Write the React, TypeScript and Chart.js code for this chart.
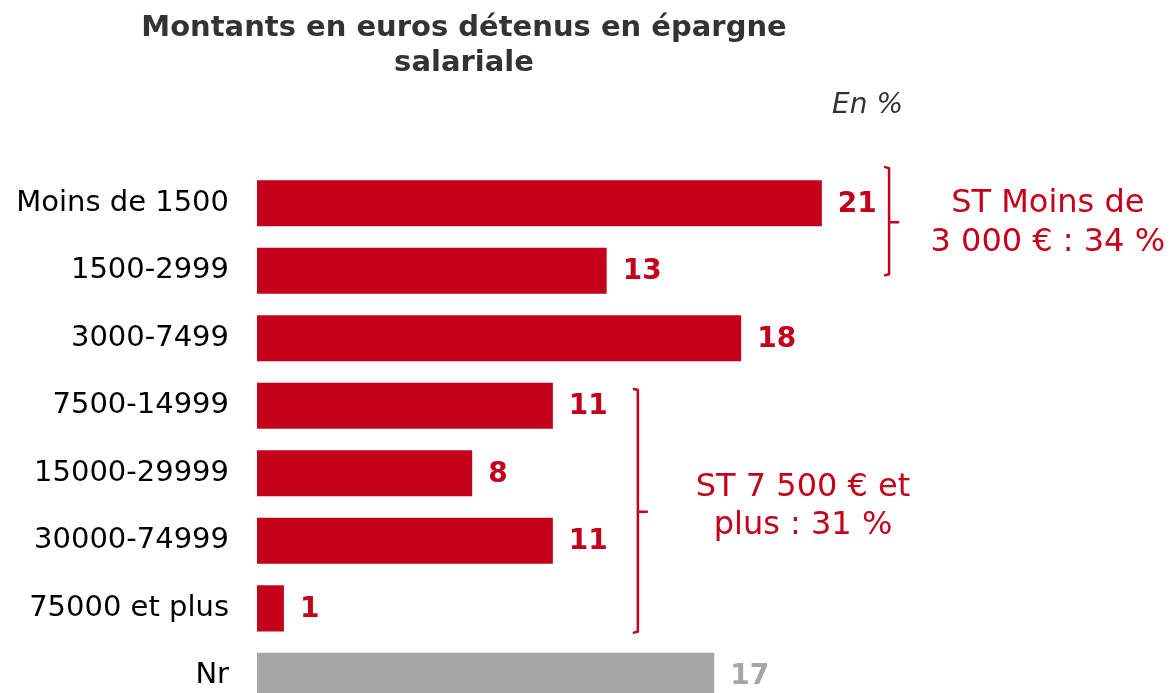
import React, { useEffect, useRef } from "react";
import { Chart, registerables } from "chart.js";

Chart.register(...registerables);

const categories = [
  "Moins de 1500",
  "1500-2999",
  "3000-7499",
  "7500-14999",
  "15000-29999",
  "30000-74999",
  "75000 et plus",
  "Nr",
];
const values = [21, 13, 18, 11, 8, 11, 1, 17];
const barColors = ["#c4001a", "#c4001a", "#c4001a", "#c4001a", "#c4001a", "#c4001a", "#c4001a", "#a6a6a6"];
const titleLines = ["Montants en euros détenus en épargne", "salariale"];
const unitLabel = "En %";
const groupA = { text: ["ST Moins de", "3 000 € : 34 %"], from: 0, to: 1 };
const groupB = { text: ["ST 7 500 € et", "plus : 31 %"], from: 3, to: 6 };

const RED = "#c4001a";
const FONT = "'DejaVu Sans', Verdana, sans-serif";

const overlay = {
  id: "overlay",
  afterDatasetsDraw(chart: any) {
    const { ctx } = chart;
    const xs = chart.scales.x;
    const ys = chart.scales.y;
    const meta = chart.getDatasetMeta(0);
    ctx.save();
    // value labels
    ctx.font = `bold 28px ${FONT}`;
    ctx.textAlign = "left";
    ctx.textBaseline = "middle";
    meta.data.forEach((bar: any, i: number) => {
      ctx.fillStyle = i === values.length - 1 ? "#a6a6a6" : RED;
      ctx.fillText(String(values[i]), bar.x + 16, bar.y + 1);
    });

    // brackets
    const drawBracket = (xv: number, top: number, bottom: number, mid: number) => {
      const x = xs.getPixelForValue(xv);
      const yt = ys.getPixelForValue(top);
      const yb = ys.getPixelForValue(bottom);
      const ym = ys.getPixelForValue(mid);
      ctx.strokeStyle = RED;
      ctx.lineWidth = 2.5;
      ctx.lineJoin = "round";
      ctx.lineCap = "round";
      ctx.beginPath();
      ctx.moveTo(x - 4, yt);
      ctx.lineTo(x, yt + 1);
      ctx.lineTo(x, yb - 1);
      ctx.lineTo(x - 4, yb);
      ctx.moveTo(x, ym);
      ctx.lineTo(x + 9, ym);
      ctx.stroke();
    };
    drawBracket(23.5, groupA.from - 0.535, groupA.to + 0.067, 0.28);
    drawBracket(14.16, groupB.from - 0.25, groupB.to + 0.36, 4.57);

    // group annotations
    ctx.font = `32px ${FONT}`;
    ctx.fillStyle = RED;
    ctx.textAlign = "center";
    ctx.textBaseline = "middle";
    ctx.fillText(groupA.text[0], xs.getPixelForValue(29.4), ys.getPixelForValue(0.0));
    ctx.fillText(groupA.text[1], xs.getPixelForValue(29.4), ys.getPixelForValue(0.58));
    ctx.fillText(groupB.text[0], xs.getPixelForValue(20.3), ys.getPixelForValue(4.22));
    ctx.fillText(groupB.text[1], xs.getPixelForValue(20.3), ys.getPixelForValue(4.77));

    // title
    ctx.fillStyle = "#333333";
    ctx.font = `bold 29px ${FONT}`;
    ctx.fillText(titleLines[0], 464, 28);
    ctx.fillText(titleLines[1], 464, 63);
    ctx.font = `italic 28px ${FONT}`;
    ctx.textAlign = "right";
    ctx.fillText(unitLabel, 903, 106);
    ctx.restore();
  },
};

export default function App() {
  const ref = useRef<HTMLCanvasElement | null>(null);
  useEffect(() => {
    if (!ref.current) return;
    const chart = new Chart(ref.current, {
      type: "bar",
      data: {
        labels: categories,
        datasets: [
          {
            data: values,
            backgroundColor: barColors,
            borderWidth: 0,
            barPercentage: 0.683,
            categoryPercentage: 1,
          },
        ],
      },
      options: {
        indexAxis: "y",
        animation: false,
        responsive: false,
        maintainAspectRatio: false,
        layout: { padding: { top: 169.5, bottom: 11.5, left: 0, right: 3.5 } },
        plugins: { legend: { display: false }, tooltip: { enabled: false }, title: { display: false } },
        scales: {
          x: { display: false, min: 0, max: 34 },
          y: {
            afterFit: (s: any) => {
              s.width = 257;
            },
            grid: { display: false, drawTicks: false },
            border: { display: false },
            ticks: { color: "#000000", padding: 28, font: { family: FONT, size: 29 } },
          },
        },
      },
      plugins: [overlay],
    });
    return () => chart.destroy();
  }, []);
  return (
    <div style={{ position: "absolute", left: 0, top: 0, width: 1175, height: 755 }}>
      <canvas ref={ref} width={1175} height={755} style={{ display: "block" }} />
    </div>
  );
}
